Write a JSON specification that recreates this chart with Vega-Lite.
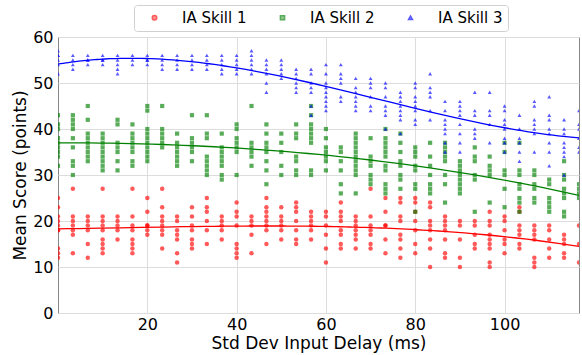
{
"$schema":"https://vega.github.io/schema/vega-lite/v6.json",
"width":521,"height":276,
"autosize":{"type":"none"},
"padding":{"left":58,"top":37,"right":3,"bottom":42},
"background":"white",
"config":{"view":{"stroke":"#888888","strokeWidth":1},"font":"DejaVu Sans",
"axis":{"labelFont":"DejaVu Sans","titleFont":"DejaVu Sans","labelFontSize":16,"titleFontSize":17,"titleFontWeight":"normal","labelColor":"#000","titleColor":"#000","gridColor":"#dddddd","domain":false,"tickSize":0}},
"data":{"values":[
{"x":0,"s":"IA Skill 1","y":25},{"x":0,"s":"IA Skill 1","y":23},{"x":0,"s":"IA Skill 1","y":21},{"x":0,"s":"IA Skill 1","y":20},{"x":0,"s":"IA Skill 1","y":19},{"x":0,"s":"IA Skill 1","y":18},{"x":0,"s":"IA Skill 1","y":18},{"x":0,"s":"IA Skill 1","y":14},{"x":0,"s":"IA Skill 1","y":13},{"x":0,"s":"IA Skill 1","y":12},
{"x":3.33,"s":"IA Skill 1","y":27},{"x":3.33,"s":"IA Skill 1","y":21},{"x":3.33,"s":"IA Skill 1","y":20},{"x":3.33,"s":"IA Skill 1","y":19},{"x":3.33,"s":"IA Skill 1","y":18},{"x":3.33,"s":"IA Skill 1","y":17},{"x":3.33,"s":"IA Skill 1","y":13},
{"x":6.67,"s":"IA Skill 1","y":21},{"x":6.67,"s":"IA Skill 1","y":20},{"x":6.67,"s":"IA Skill 1","y":19},{"x":6.67,"s":"IA Skill 1","y":18},{"x":6.67,"s":"IA Skill 1","y":15},{"x":6.67,"s":"IA Skill 1","y":12},
{"x":10,"s":"IA Skill 1","y":27},{"x":10,"s":"IA Skill 1","y":21},{"x":10,"s":"IA Skill 1","y":20},{"x":10,"s":"IA Skill 1","y":19},{"x":10,"s":"IA Skill 1","y":18},{"x":10,"s":"IA Skill 1","y":16},{"x":10,"s":"IA Skill 1","y":15},{"x":10,"s":"IA Skill 1","y":14},{"x":10,"s":"IA Skill 1","y":13},
{"x":13.33,"s":"IA Skill 1","y":21},{"x":13.33,"s":"IA Skill 1","y":20},{"x":13.33,"s":"IA Skill 1","y":19},{"x":13.33,"s":"IA Skill 1","y":18},{"x":13.33,"s":"IA Skill 1","y":16},
{"x":16.67,"s":"IA Skill 1","y":27},{"x":16.67,"s":"IA Skill 1","y":21},{"x":16.67,"s":"IA Skill 1","y":19},{"x":16.67,"s":"IA Skill 1","y":18},{"x":16.67,"s":"IA Skill 1","y":16},{"x":16.67,"s":"IA Skill 1","y":15},{"x":16.67,"s":"IA Skill 1","y":14},{"x":16.67,"s":"IA Skill 1","y":13},
{"x":20,"s":"IA Skill 1","y":25},{"x":20,"s":"IA Skill 1","y":22},{"x":20,"s":"IA Skill 1","y":19},{"x":20,"s":"IA Skill 1","y":19},{"x":20,"s":"IA Skill 1","y":18},{"x":20,"s":"IA Skill 1","y":17},
{"x":23.33,"s":"IA Skill 1","y":27},{"x":23.33,"s":"IA Skill 1","y":23},{"x":23.33,"s":"IA Skill 1","y":21},{"x":23.33,"s":"IA Skill 1","y":20},{"x":23.33,"s":"IA Skill 1","y":19},{"x":23.33,"s":"IA Skill 1","y":18},{"x":23.33,"s":"IA Skill 1","y":17},{"x":23.33,"s":"IA Skill 1","y":14},
{"x":26.67,"s":"IA Skill 1","y":21},{"x":26.67,"s":"IA Skill 1","y":20},{"x":26.67,"s":"IA Skill 1","y":18},{"x":26.67,"s":"IA Skill 1","y":17},{"x":26.67,"s":"IA Skill 1","y":16},{"x":26.67,"s":"IA Skill 1","y":13},{"x":26.67,"s":"IA Skill 1","y":11},
{"x":30,"s":"IA Skill 1","y":23},{"x":30,"s":"IA Skill 1","y":21},{"x":30,"s":"IA Skill 1","y":19},{"x":30,"s":"IA Skill 1","y":18},{"x":30,"s":"IA Skill 1","y":16},{"x":30,"s":"IA Skill 1","y":15},{"x":30,"s":"IA Skill 1","y":14},
{"x":33.33,"s":"IA Skill 1","y":25},{"x":33.33,"s":"IA Skill 1","y":23},{"x":33.33,"s":"IA Skill 1","y":22},{"x":33.33,"s":"IA Skill 1","y":20},{"x":33.33,"s":"IA Skill 1","y":18},{"x":33.33,"s":"IA Skill 1","y":15},
{"x":36.67,"s":"IA Skill 1","y":21},{"x":36.67,"s":"IA Skill 1","y":20},{"x":36.67,"s":"IA Skill 1","y":19},{"x":36.67,"s":"IA Skill 1","y":18},{"x":36.67,"s":"IA Skill 1","y":16},
{"x":40,"s":"IA Skill 1","y":24},{"x":40,"s":"IA Skill 1","y":22},{"x":40,"s":"IA Skill 1","y":21},{"x":40,"s":"IA Skill 1","y":19},{"x":40,"s":"IA Skill 1","y":15},{"x":40,"s":"IA Skill 1","y":14},{"x":40,"s":"IA Skill 1","y":13},{"x":40,"s":"IA Skill 1","y":12},
{"x":43.33,"s":"IA Skill 1","y":21},{"x":43.33,"s":"IA Skill 1","y":20},{"x":43.33,"s":"IA Skill 1","y":19},{"x":43.33,"s":"IA Skill 1","y":17},{"x":43.33,"s":"IA Skill 1","y":13},
{"x":46.67,"s":"IA Skill 1","y":25},{"x":46.67,"s":"IA Skill 1","y":23},{"x":46.67,"s":"IA Skill 1","y":22},{"x":46.67,"s":"IA Skill 1","y":21},{"x":46.67,"s":"IA Skill 1","y":20},{"x":46.67,"s":"IA Skill 1","y":19},{"x":46.67,"s":"IA Skill 1","y":18},{"x":46.67,"s":"IA Skill 1","y":15},
{"x":50,"s":"IA Skill 1","y":23},{"x":50,"s":"IA Skill 1","y":21},{"x":50,"s":"IA Skill 1","y":20},{"x":50,"s":"IA Skill 1","y":19},{"x":50,"s":"IA Skill 1","y":18},{"x":50,"s":"IA Skill 1","y":16},
{"x":53.33,"s":"IA Skill 1","y":24},{"x":53.33,"s":"IA Skill 1","y":23},{"x":53.33,"s":"IA Skill 1","y":22},{"x":53.33,"s":"IA Skill 1","y":20},{"x":53.33,"s":"IA Skill 1","y":18},{"x":53.33,"s":"IA Skill 1","y":16},{"x":53.33,"s":"IA Skill 1","y":15},
{"x":56.67,"s":"IA Skill 1","y":22},{"x":56.67,"s":"IA Skill 1","y":21},{"x":56.67,"s":"IA Skill 1","y":20},{"x":56.67,"s":"IA Skill 1","y":19},{"x":56.67,"s":"IA Skill 1","y":18},{"x":56.67,"s":"IA Skill 1","y":16},
{"x":60,"s":"IA Skill 1","y":22},{"x":60,"s":"IA Skill 1","y":21},{"x":60,"s":"IA Skill 1","y":19},{"x":60,"s":"IA Skill 1","y":17},{"x":60,"s":"IA Skill 1","y":14},{"x":60,"s":"IA Skill 1","y":11},
{"x":63.33,"s":"IA Skill 1","y":24},{"x":63.33,"s":"IA Skill 1","y":22},{"x":63.33,"s":"IA Skill 1","y":21},{"x":63.33,"s":"IA Skill 1","y":20},{"x":63.33,"s":"IA Skill 1","y":18},{"x":63.33,"s":"IA Skill 1","y":17},{"x":63.33,"s":"IA Skill 1","y":15},{"x":63.33,"s":"IA Skill 1","y":14},
{"x":66.67,"s":"IA Skill 1","y":21},{"x":66.67,"s":"IA Skill 1","y":20},{"x":66.67,"s":"IA Skill 1","y":19},{"x":66.67,"s":"IA Skill 1","y":18},{"x":66.67,"s":"IA Skill 1","y":17},{"x":66.67,"s":"IA Skill 1","y":16},{"x":66.67,"s":"IA Skill 1","y":14},
{"x":70,"s":"IA Skill 1","y":27},{"x":70,"s":"IA Skill 1","y":21},{"x":70,"s":"IA Skill 1","y":19},{"x":70,"s":"IA Skill 1","y":18},{"x":70,"s":"IA Skill 1","y":17},{"x":70,"s":"IA Skill 1","y":15},{"x":70,"s":"IA Skill 1","y":14},
{"x":73.33,"s":"IA Skill 1","y":25},{"x":73.33,"s":"IA Skill 1","y":22},{"x":73.33,"s":"IA Skill 1","y":19},{"x":73.33,"s":"IA Skill 1","y":19},{"x":73.33,"s":"IA Skill 1","y":16},{"x":73.33,"s":"IA Skill 1","y":13},
{"x":76.67,"s":"IA Skill 1","y":25},{"x":76.67,"s":"IA Skill 1","y":24},{"x":76.67,"s":"IA Skill 1","y":21},{"x":76.67,"s":"IA Skill 1","y":20},{"x":76.67,"s":"IA Skill 1","y":17},{"x":76.67,"s":"IA Skill 1","y":16},{"x":76.67,"s":"IA Skill 1","y":14},{"x":76.67,"s":"IA Skill 1","y":12},
{"x":80,"s":"IA Skill 1","y":25},{"x":80,"s":"IA Skill 1","y":24},{"x":80,"s":"IA Skill 1","y":22},{"x":80,"s":"IA Skill 1","y":20},{"x":80,"s":"IA Skill 1","y":18},{"x":80,"s":"IA Skill 1","y":15},{"x":80,"s":"IA Skill 1","y":13},
{"x":83.33,"s":"IA Skill 1","y":24},{"x":83.33,"s":"IA Skill 1","y":23},{"x":83.33,"s":"IA Skill 1","y":20},{"x":83.33,"s":"IA Skill 1","y":19},{"x":83.33,"s":"IA Skill 1","y":18},{"x":83.33,"s":"IA Skill 1","y":16},{"x":83.33,"s":"IA Skill 1","y":14},{"x":83.33,"s":"IA Skill 1","y":10},
{"x":86.67,"s":"IA Skill 1","y":21},{"x":86.67,"s":"IA Skill 1","y":20},{"x":86.67,"s":"IA Skill 1","y":19},{"x":86.67,"s":"IA Skill 1","y":18},{"x":86.67,"s":"IA Skill 1","y":16},{"x":86.67,"s":"IA Skill 1","y":13},{"x":86.67,"s":"IA Skill 1","y":12},
{"x":90,"s":"IA Skill 1","y":20},{"x":90,"s":"IA Skill 1","y":19},{"x":90,"s":"IA Skill 1","y":16},{"x":90,"s":"IA Skill 1","y":12},{"x":90,"s":"IA Skill 1","y":10},
{"x":93.33,"s":"IA Skill 1","y":20},{"x":93.33,"s":"IA Skill 1","y":19},{"x":93.33,"s":"IA Skill 1","y":17},{"x":93.33,"s":"IA Skill 1","y":15},{"x":93.33,"s":"IA Skill 1","y":14},
{"x":96.67,"s":"IA Skill 1","y":22},{"x":96.67,"s":"IA Skill 1","y":20},{"x":96.67,"s":"IA Skill 1","y":19},{"x":96.67,"s":"IA Skill 1","y":17},{"x":96.67,"s":"IA Skill 1","y":16},{"x":96.67,"s":"IA Skill 1","y":15},{"x":96.67,"s":"IA Skill 1","y":14},{"x":96.67,"s":"IA Skill 1","y":11},{"x":96.67,"s":"IA Skill 1","y":10},
{"x":100,"s":"IA Skill 1","y":21},{"x":100,"s":"IA Skill 1","y":20},{"x":100,"s":"IA Skill 1","y":18},{"x":100,"s":"IA Skill 1","y":16},{"x":100,"s":"IA Skill 1","y":15},{"x":100,"s":"IA Skill 1","y":13},
{"x":103.33,"s":"IA Skill 1","y":23},{"x":103.33,"s":"IA Skill 1","y":22},{"x":103.33,"s":"IA Skill 1","y":19},{"x":103.33,"s":"IA Skill 1","y":18},{"x":103.33,"s":"IA Skill 1","y":17},{"x":103.33,"s":"IA Skill 1","y":15},{"x":103.33,"s":"IA Skill 1","y":14},
{"x":106.67,"s":"IA Skill 1","y":19},{"x":106.67,"s":"IA Skill 1","y":18},{"x":106.67,"s":"IA Skill 1","y":17},{"x":106.67,"s":"IA Skill 1","y":16},{"x":106.67,"s":"IA Skill 1","y":12},{"x":106.67,"s":"IA Skill 1","y":11},{"x":106.67,"s":"IA Skill 1","y":10},
{"x":110,"s":"IA Skill 1","y":19},{"x":110,"s":"IA Skill 1","y":18},{"x":110,"s":"IA Skill 1","y":16},{"x":110,"s":"IA Skill 1","y":14},{"x":110,"s":"IA Skill 1","y":12},
{"x":113.33,"s":"IA Skill 1","y":17},{"x":113.33,"s":"IA Skill 1","y":16},{"x":113.33,"s":"IA Skill 1","y":15},{"x":113.33,"s":"IA Skill 1","y":13},{"x":113.33,"s":"IA Skill 1","y":12},
{"x":116.67,"s":"IA Skill 1","y":19},{"x":116.67,"s":"IA Skill 1","y":15},{"x":116.67,"s":"IA Skill 1","y":11},
{"x":0,"s":"IA Skill 2","y":43},{"x":0,"s":"IA Skill 2","y":41},{"x":0,"s":"IA Skill 2","y":40},{"x":0,"s":"IA Skill 2","y":38},{"x":0,"s":"IA Skill 2","y":37},{"x":0,"s":"IA Skill 2","y":36},{"x":0,"s":"IA Skill 2","y":35},{"x":0,"s":"IA Skill 2","y":34},{"x":0,"s":"IA Skill 2","y":32},
{"x":3.33,"s":"IA Skill 2","y":43},{"x":3.33,"s":"IA Skill 2","y":42},{"x":3.33,"s":"IA Skill 2","y":41},{"x":3.33,"s":"IA Skill 2","y":40},{"x":3.33,"s":"IA Skill 2","y":38},{"x":3.33,"s":"IA Skill 2","y":36},{"x":3.33,"s":"IA Skill 2","y":33},{"x":3.33,"s":"IA Skill 2","y":32},{"x":3.33,"s":"IA Skill 2","y":30},
{"x":6.67,"s":"IA Skill 2","y":45},{"x":6.67,"s":"IA Skill 2","y":42},{"x":6.67,"s":"IA Skill 2","y":39},{"x":6.67,"s":"IA Skill 2","y":38},{"x":6.67,"s":"IA Skill 2","y":37},{"x":6.67,"s":"IA Skill 2","y":36},{"x":6.67,"s":"IA Skill 2","y":35},{"x":6.67,"s":"IA Skill 2","y":34},{"x":6.67,"s":"IA Skill 2","y":33},
{"x":10,"s":"IA Skill 2","y":39},{"x":10,"s":"IA Skill 2","y":38},{"x":10,"s":"IA Skill 2","y":37},{"x":10,"s":"IA Skill 2","y":36},{"x":10,"s":"IA Skill 2","y":35},{"x":10,"s":"IA Skill 2","y":34},{"x":10,"s":"IA Skill 2","y":33},{"x":10,"s":"IA Skill 2","y":32},{"x":10,"s":"IA Skill 2","y":31},
{"x":13.33,"s":"IA Skill 2","y":42},{"x":13.33,"s":"IA Skill 2","y":41},{"x":13.33,"s":"IA Skill 2","y":37},{"x":13.33,"s":"IA Skill 2","y":36},{"x":13.33,"s":"IA Skill 2","y":35},{"x":13.33,"s":"IA Skill 2","y":33},{"x":13.33,"s":"IA Skill 2","y":31},
{"x":16.67,"s":"IA Skill 2","y":41},{"x":16.67,"s":"IA Skill 2","y":39},{"x":16.67,"s":"IA Skill 2","y":38},{"x":16.67,"s":"IA Skill 2","y":37},{"x":16.67,"s":"IA Skill 2","y":36},{"x":16.67,"s":"IA Skill 2","y":35},{"x":16.67,"s":"IA Skill 2","y":33},{"x":16.67,"s":"IA Skill 2","y":32},
{"x":20,"s":"IA Skill 2","y":45},{"x":20,"s":"IA Skill 2","y":44},{"x":20,"s":"IA Skill 2","y":40},{"x":20,"s":"IA Skill 2","y":39},{"x":20,"s":"IA Skill 2","y":38},{"x":20,"s":"IA Skill 2","y":37},{"x":20,"s":"IA Skill 2","y":36},{"x":20,"s":"IA Skill 2","y":35},{"x":20,"s":"IA Skill 2","y":34},{"x":20,"s":"IA Skill 2","y":33},
{"x":23.33,"s":"IA Skill 2","y":45},{"x":23.33,"s":"IA Skill 2","y":40},{"x":23.33,"s":"IA Skill 2","y":39},{"x":23.33,"s":"IA Skill 2","y":38},{"x":23.33,"s":"IA Skill 2","y":37},{"x":23.33,"s":"IA Skill 2","y":36},
{"x":26.67,"s":"IA Skill 2","y":39},{"x":26.67,"s":"IA Skill 2","y":37},{"x":26.67,"s":"IA Skill 2","y":36},{"x":26.67,"s":"IA Skill 2","y":35},{"x":26.67,"s":"IA Skill 2","y":34},{"x":26.67,"s":"IA Skill 2","y":33},{"x":26.67,"s":"IA Skill 2","y":32},
{"x":30,"s":"IA Skill 2","y":43},{"x":30,"s":"IA Skill 2","y":38},{"x":30,"s":"IA Skill 2","y":37},{"x":30,"s":"IA Skill 2","y":36},{"x":30,"s":"IA Skill 2","y":35},{"x":30,"s":"IA Skill 2","y":33},
{"x":33.33,"s":"IA Skill 2","y":43},{"x":33.33,"s":"IA Skill 2","y":39},{"x":33.33,"s":"IA Skill 2","y":38},{"x":33.33,"s":"IA Skill 2","y":34},{"x":33.33,"s":"IA Skill 2","y":33},{"x":33.33,"s":"IA Skill 2","y":32},{"x":33.33,"s":"IA Skill 2","y":31},{"x":33.33,"s":"IA Skill 2","y":30},
{"x":36.67,"s":"IA Skill 2","y":39},{"x":36.67,"s":"IA Skill 2","y":36},{"x":36.67,"s":"IA Skill 2","y":35},{"x":36.67,"s":"IA Skill 2","y":34},{"x":36.67,"s":"IA Skill 2","y":33},{"x":36.67,"s":"IA Skill 2","y":32},{"x":36.67,"s":"IA Skill 2","y":30},{"x":36.67,"s":"IA Skill 2","y":29},
{"x":40,"s":"IA Skill 2","y":41},{"x":40,"s":"IA Skill 2","y":40},{"x":40,"s":"IA Skill 2","y":38},{"x":40,"s":"IA Skill 2","y":37},{"x":40,"s":"IA Skill 2","y":36},{"x":40,"s":"IA Skill 2","y":35},{"x":40,"s":"IA Skill 2","y":30},
{"x":43.33,"s":"IA Skill 2","y":45},{"x":43.33,"s":"IA Skill 2","y":37},{"x":43.33,"s":"IA Skill 2","y":36},{"x":43.33,"s":"IA Skill 2","y":35},{"x":43.33,"s":"IA Skill 2","y":34},{"x":43.33,"s":"IA Skill 2","y":32},
{"x":46.67,"s":"IA Skill 2","y":41},{"x":46.67,"s":"IA Skill 2","y":39},{"x":46.67,"s":"IA Skill 2","y":37},{"x":46.67,"s":"IA Skill 2","y":36},{"x":46.67,"s":"IA Skill 2","y":35},{"x":46.67,"s":"IA Skill 2","y":33},{"x":46.67,"s":"IA Skill 2","y":31},{"x":46.67,"s":"IA Skill 2","y":28},
{"x":50,"s":"IA Skill 2","y":39},{"x":50,"s":"IA Skill 2","y":37},{"x":50,"s":"IA Skill 2","y":35},{"x":50,"s":"IA Skill 2","y":32},{"x":50,"s":"IA Skill 2","y":30},
{"x":53.33,"s":"IA Skill 2","y":41},{"x":53.33,"s":"IA Skill 2","y":39},{"x":53.33,"s":"IA Skill 2","y":38},{"x":53.33,"s":"IA Skill 2","y":34},{"x":53.33,"s":"IA Skill 2","y":33},{"x":53.33,"s":"IA Skill 2","y":31},{"x":53.33,"s":"IA Skill 2","y":30},
{"x":56.67,"s":"IA Skill 2","y":45},{"x":56.67,"s":"IA Skill 2","y":43},{"x":56.67,"s":"IA Skill 2","y":41},{"x":56.67,"s":"IA Skill 2","y":40},{"x":56.67,"s":"IA Skill 2","y":39},{"x":56.67,"s":"IA Skill 2","y":38},{"x":56.67,"s":"IA Skill 2","y":37},{"x":56.67,"s":"IA Skill 2","y":31},{"x":56.67,"s":"IA Skill 2","y":30},
{"x":60,"s":"IA Skill 2","y":40},{"x":60,"s":"IA Skill 2","y":38},{"x":60,"s":"IA Skill 2","y":36},{"x":60,"s":"IA Skill 2","y":35},{"x":60,"s":"IA Skill 2","y":34},{"x":60,"s":"IA Skill 2","y":33},{"x":60,"s":"IA Skill 2","y":31},
{"x":63.33,"s":"IA Skill 2","y":36},{"x":63.33,"s":"IA Skill 2","y":35},{"x":63.33,"s":"IA Skill 2","y":33},{"x":63.33,"s":"IA Skill 2","y":31},{"x":63.33,"s":"IA Skill 2","y":28},{"x":63.33,"s":"IA Skill 2","y":26},
{"x":66.67,"s":"IA Skill 2","y":39},{"x":66.67,"s":"IA Skill 2","y":38},{"x":66.67,"s":"IA Skill 2","y":37},{"x":66.67,"s":"IA Skill 2","y":36},{"x":66.67,"s":"IA Skill 2","y":35},{"x":66.67,"s":"IA Skill 2","y":34},{"x":66.67,"s":"IA Skill 2","y":33},{"x":66.67,"s":"IA Skill 2","y":32},{"x":66.67,"s":"IA Skill 2","y":31},{"x":66.67,"s":"IA Skill 2","y":30},{"x":66.67,"s":"IA Skill 2","y":26},
{"x":70,"s":"IA Skill 2","y":38},{"x":70,"s":"IA Skill 2","y":34},{"x":70,"s":"IA Skill 2","y":33},{"x":70,"s":"IA Skill 2","y":32},{"x":70,"s":"IA Skill 2","y":30},{"x":70,"s":"IA Skill 2","y":29},{"x":70,"s":"IA Skill 2","y":28},
{"x":73.33,"s":"IA Skill 2","y":40},{"x":73.33,"s":"IA Skill 2","y":38},{"x":73.33,"s":"IA Skill 2","y":37},{"x":73.33,"s":"IA Skill 2","y":36},{"x":73.33,"s":"IA Skill 2","y":35},{"x":73.33,"s":"IA Skill 2","y":34},{"x":73.33,"s":"IA Skill 2","y":32},{"x":73.33,"s":"IA Skill 2","y":31},{"x":73.33,"s":"IA Skill 2","y":28},{"x":73.33,"s":"IA Skill 2","y":27},{"x":73.33,"s":"IA Skill 2","y":26},
{"x":76.67,"s":"IA Skill 2","y":39},{"x":76.67,"s":"IA Skill 2","y":37},{"x":76.67,"s":"IA Skill 2","y":35},{"x":76.67,"s":"IA Skill 2","y":33},{"x":76.67,"s":"IA Skill 2","y":32},{"x":76.67,"s":"IA Skill 2","y":30},{"x":76.67,"s":"IA Skill 2","y":29},{"x":76.67,"s":"IA Skill 2","y":27},
{"x":80,"s":"IA Skill 2","y":36},{"x":80,"s":"IA Skill 2","y":35},{"x":80,"s":"IA Skill 2","y":34},{"x":80,"s":"IA Skill 2","y":32},{"x":80,"s":"IA Skill 2","y":31},{"x":80,"s":"IA Skill 2","y":28},{"x":80,"s":"IA Skill 2","y":27},{"x":80,"s":"IA Skill 2","y":22},
{"x":83.33,"s":"IA Skill 2","y":37},{"x":83.33,"s":"IA Skill 2","y":34},{"x":83.33,"s":"IA Skill 2","y":32},{"x":83.33,"s":"IA Skill 2","y":30},{"x":83.33,"s":"IA Skill 2","y":28},{"x":83.33,"s":"IA Skill 2","y":27},{"x":83.33,"s":"IA Skill 2","y":26},
{"x":86.67,"s":"IA Skill 2","y":37},{"x":86.67,"s":"IA Skill 2","y":36},{"x":86.67,"s":"IA Skill 2","y":35},{"x":86.67,"s":"IA Skill 2","y":34},{"x":86.67,"s":"IA Skill 2","y":33},{"x":86.67,"s":"IA Skill 2","y":30},{"x":86.67,"s":"IA Skill 2","y":28},{"x":86.67,"s":"IA Skill 2","y":24},
{"x":90,"s":"IA Skill 2","y":33},{"x":90,"s":"IA Skill 2","y":32},{"x":90,"s":"IA Skill 2","y":31},{"x":90,"s":"IA Skill 2","y":30},{"x":90,"s":"IA Skill 2","y":29},{"x":90,"s":"IA Skill 2","y":28},{"x":90,"s":"IA Skill 2","y":27},{"x":90,"s":"IA Skill 2","y":26},
{"x":93.33,"s":"IA Skill 2","y":36},{"x":93.33,"s":"IA Skill 2","y":34},{"x":93.33,"s":"IA Skill 2","y":33},{"x":93.33,"s":"IA Skill 2","y":30},{"x":93.33,"s":"IA Skill 2","y":29},{"x":93.33,"s":"IA Skill 2","y":22},
{"x":96.67,"s":"IA Skill 2","y":34},{"x":96.67,"s":"IA Skill 2","y":32},{"x":96.67,"s":"IA Skill 2","y":31},{"x":96.67,"s":"IA Skill 2","y":30},{"x":96.67,"s":"IA Skill 2","y":24},
{"x":100,"s":"IA Skill 2","y":37},{"x":100,"s":"IA Skill 2","y":35},{"x":100,"s":"IA Skill 2","y":31},{"x":100,"s":"IA Skill 2","y":30},{"x":100,"s":"IA Skill 2","y":27},{"x":100,"s":"IA Skill 2","y":23},
{"x":103.33,"s":"IA Skill 2","y":37},{"x":103.33,"s":"IA Skill 2","y":31},{"x":103.33,"s":"IA Skill 2","y":30},{"x":103.33,"s":"IA Skill 2","y":28},{"x":103.33,"s":"IA Skill 2","y":27},{"x":103.33,"s":"IA Skill 2","y":25},{"x":103.33,"s":"IA Skill 2","y":24},{"x":103.33,"s":"IA Skill 2","y":22},
{"x":106.67,"s":"IA Skill 2","y":31},{"x":106.67,"s":"IA Skill 2","y":30},{"x":106.67,"s":"IA Skill 2","y":28},{"x":106.67,"s":"IA Skill 2","y":27},{"x":106.67,"s":"IA Skill 2","y":25},{"x":106.67,"s":"IA Skill 2","y":24},
{"x":110,"s":"IA Skill 2","y":29},{"x":110,"s":"IA Skill 2","y":28},{"x":110,"s":"IA Skill 2","y":25},{"x":110,"s":"IA Skill 2","y":24},{"x":110,"s":"IA Skill 2","y":23},{"x":110,"s":"IA Skill 2","y":22},
{"x":113.33,"s":"IA Skill 2","y":33},{"x":113.33,"s":"IA Skill 2","y":30},{"x":113.33,"s":"IA Skill 2","y":29},{"x":113.33,"s":"IA Skill 2","y":27},{"x":113.33,"s":"IA Skill 2","y":26},{"x":113.33,"s":"IA Skill 2","y":25},{"x":113.33,"s":"IA Skill 2","y":22},{"x":113.33,"s":"IA Skill 2","y":21},
{"x":116.67,"s":"IA Skill 2","y":28},{"x":116.67,"s":"IA Skill 2","y":27},{"x":116.67,"s":"IA Skill 2","y":26},{"x":116.67,"s":"IA Skill 2","y":25},
{"x":0,"s":"IA Skill 3","y":57},{"x":0,"s":"IA Skill 3","y":56},{"x":0,"s":"IA Skill 3","y":56},{"x":0,"s":"IA Skill 3","y":55},{"x":0,"s":"IA Skill 3","y":54},{"x":0,"s":"IA Skill 3","y":52},
{"x":3.33,"s":"IA Skill 3","y":56},{"x":3.33,"s":"IA Skill 3","y":55},{"x":3.33,"s":"IA Skill 3","y":54},{"x":3.33,"s":"IA Skill 3","y":53},
{"x":6.67,"s":"IA Skill 3","y":56},{"x":6.67,"s":"IA Skill 3","y":55},{"x":6.67,"s":"IA Skill 3","y":55},{"x":6.67,"s":"IA Skill 3","y":54},
{"x":10,"s":"IA Skill 3","y":56},{"x":10,"s":"IA Skill 3","y":55},{"x":10,"s":"IA Skill 3","y":55},{"x":10,"s":"IA Skill 3","y":54},
{"x":13.33,"s":"IA Skill 3","y":56},{"x":13.33,"s":"IA Skill 3","y":55},{"x":13.33,"s":"IA Skill 3","y":54},{"x":13.33,"s":"IA Skill 3","y":53},{"x":13.33,"s":"IA Skill 3","y":52},
{"x":16.67,"s":"IA Skill 3","y":56},{"x":16.67,"s":"IA Skill 3","y":55},{"x":16.67,"s":"IA Skill 3","y":54},
{"x":20,"s":"IA Skill 3","y":56},{"x":20,"s":"IA Skill 3","y":55},{"x":20,"s":"IA Skill 3","y":55},{"x":20,"s":"IA Skill 3","y":54},
{"x":23.33,"s":"IA Skill 3","y":56},{"x":23.33,"s":"IA Skill 3","y":55},{"x":23.33,"s":"IA Skill 3","y":54},{"x":23.33,"s":"IA Skill 3","y":53},
{"x":26.67,"s":"IA Skill 3","y":56},{"x":26.67,"s":"IA Skill 3","y":55},{"x":26.67,"s":"IA Skill 3","y":54},{"x":26.67,"s":"IA Skill 3","y":53},
{"x":30,"s":"IA Skill 3","y":56},{"x":30,"s":"IA Skill 3","y":55},{"x":30,"s":"IA Skill 3","y":54},{"x":30,"s":"IA Skill 3","y":53},
{"x":33.33,"s":"IA Skill 3","y":56},{"x":33.33,"s":"IA Skill 3","y":55},{"x":33.33,"s":"IA Skill 3","y":54},{"x":33.33,"s":"IA Skill 3","y":53},
{"x":36.67,"s":"IA Skill 3","y":56},{"x":36.67,"s":"IA Skill 3","y":55},{"x":36.67,"s":"IA Skill 3","y":54},{"x":36.67,"s":"IA Skill 3","y":53},{"x":36.67,"s":"IA Skill 3","y":52},
{"x":40,"s":"IA Skill 3","y":56},{"x":40,"s":"IA Skill 3","y":55},{"x":40,"s":"IA Skill 3","y":54},{"x":40,"s":"IA Skill 3","y":53},{"x":40,"s":"IA Skill 3","y":52},
{"x":43.33,"s":"IA Skill 3","y":57},{"x":43.33,"s":"IA Skill 3","y":56},{"x":43.33,"s":"IA Skill 3","y":55},{"x":43.33,"s":"IA Skill 3","y":54},{"x":43.33,"s":"IA Skill 3","y":53},{"x":43.33,"s":"IA Skill 3","y":52},
{"x":46.67,"s":"IA Skill 3","y":55},{"x":46.67,"s":"IA Skill 3","y":54},{"x":46.67,"s":"IA Skill 3","y":53},{"x":46.67,"s":"IA Skill 3","y":52},{"x":46.67,"s":"IA Skill 3","y":50},{"x":46.67,"s":"IA Skill 3","y":48},
{"x":50,"s":"IA Skill 3","y":55},{"x":50,"s":"IA Skill 3","y":54},{"x":50,"s":"IA Skill 3","y":53},{"x":50,"s":"IA Skill 3","y":52},{"x":50,"s":"IA Skill 3","y":51},
{"x":53.33,"s":"IA Skill 3","y":53},{"x":53.33,"s":"IA Skill 3","y":52},{"x":53.33,"s":"IA Skill 3","y":51},{"x":53.33,"s":"IA Skill 3","y":50},{"x":53.33,"s":"IA Skill 3","y":49},{"x":53.33,"s":"IA Skill 3","y":48},
{"x":56.67,"s":"IA Skill 3","y":53},{"x":56.67,"s":"IA Skill 3","y":52},{"x":56.67,"s":"IA Skill 3","y":50},{"x":56.67,"s":"IA Skill 3","y":49},{"x":56.67,"s":"IA Skill 3","y":48},{"x":56.67,"s":"IA Skill 3","y":45},{"x":56.67,"s":"IA Skill 3","y":43},
{"x":60,"s":"IA Skill 3","y":54},{"x":60,"s":"IA Skill 3","y":52},{"x":60,"s":"IA Skill 3","y":50},{"x":60,"s":"IA Skill 3","y":49},{"x":60,"s":"IA Skill 3","y":48},{"x":60,"s":"IA Skill 3","y":47},{"x":60,"s":"IA Skill 3","y":46},{"x":60,"s":"IA Skill 3","y":45},{"x":60,"s":"IA Skill 3","y":44},
{"x":63.33,"s":"IA Skill 3","y":54},{"x":63.33,"s":"IA Skill 3","y":52},{"x":63.33,"s":"IA Skill 3","y":51},{"x":63.33,"s":"IA Skill 3","y":50},{"x":63.33,"s":"IA Skill 3","y":47},{"x":63.33,"s":"IA Skill 3","y":46},
{"x":66.67,"s":"IA Skill 3","y":51},{"x":66.67,"s":"IA Skill 3","y":49},{"x":66.67,"s":"IA Skill 3","y":48},{"x":66.67,"s":"IA Skill 3","y":47},{"x":66.67,"s":"IA Skill 3","y":46},{"x":66.67,"s":"IA Skill 3","y":45},{"x":66.67,"s":"IA Skill 3","y":44},
{"x":70,"s":"IA Skill 3","y":51},{"x":70,"s":"IA Skill 3","y":50},{"x":70,"s":"IA Skill 3","y":49},{"x":70,"s":"IA Skill 3","y":47},{"x":70,"s":"IA Skill 3","y":45},{"x":70,"s":"IA Skill 3","y":44},
{"x":73.33,"s":"IA Skill 3","y":50},{"x":73.33,"s":"IA Skill 3","y":49},{"x":73.33,"s":"IA Skill 3","y":47},{"x":73.33,"s":"IA Skill 3","y":45},{"x":73.33,"s":"IA Skill 3","y":44},{"x":73.33,"s":"IA Skill 3","y":43},{"x":73.33,"s":"IA Skill 3","y":40},
{"x":76.67,"s":"IA Skill 3","y":48},{"x":76.67,"s":"IA Skill 3","y":47},{"x":76.67,"s":"IA Skill 3","y":46},{"x":76.67,"s":"IA Skill 3","y":45},{"x":76.67,"s":"IA Skill 3","y":44},{"x":76.67,"s":"IA Skill 3","y":43},{"x":76.67,"s":"IA Skill 3","y":42},{"x":76.67,"s":"IA Skill 3","y":39},
{"x":80,"s":"IA Skill 3","y":50},{"x":80,"s":"IA Skill 3","y":49},{"x":80,"s":"IA Skill 3","y":47},{"x":80,"s":"IA Skill 3","y":46},{"x":80,"s":"IA Skill 3","y":45},{"x":80,"s":"IA Skill 3","y":44},{"x":80,"s":"IA Skill 3","y":42},{"x":80,"s":"IA Skill 3","y":41},
{"x":83.33,"s":"IA Skill 3","y":52},{"x":83.33,"s":"IA Skill 3","y":49},{"x":83.33,"s":"IA Skill 3","y":48},{"x":83.33,"s":"IA Skill 3","y":47},{"x":83.33,"s":"IA Skill 3","y":44},{"x":83.33,"s":"IA Skill 3","y":42},
{"x":86.67,"s":"IA Skill 3","y":46},{"x":86.67,"s":"IA Skill 3","y":44},{"x":86.67,"s":"IA Skill 3","y":42},{"x":86.67,"s":"IA Skill 3","y":41},{"x":86.67,"s":"IA Skill 3","y":40},{"x":86.67,"s":"IA Skill 3","y":39},{"x":86.67,"s":"IA Skill 3","y":37},{"x":86.67,"s":"IA Skill 3","y":35},
{"x":90,"s":"IA Skill 3","y":46},{"x":90,"s":"IA Skill 3","y":45},{"x":90,"s":"IA Skill 3","y":44},{"x":90,"s":"IA Skill 3","y":43},{"x":90,"s":"IA Skill 3","y":41},{"x":90,"s":"IA Skill 3","y":39},{"x":90,"s":"IA Skill 3","y":37},{"x":90,"s":"IA Skill 3","y":35},
{"x":93.33,"s":"IA Skill 3","y":48},{"x":93.33,"s":"IA Skill 3","y":44},{"x":93.33,"s":"IA Skill 3","y":43},{"x":93.33,"s":"IA Skill 3","y":40},{"x":93.33,"s":"IA Skill 3","y":39},{"x":93.33,"s":"IA Skill 3","y":38},
{"x":96.67,"s":"IA Skill 3","y":48},{"x":96.67,"s":"IA Skill 3","y":44},{"x":96.67,"s":"IA Skill 3","y":43},{"x":96.67,"s":"IA Skill 3","y":41},{"x":96.67,"s":"IA Skill 3","y":37},
{"x":100,"s":"IA Skill 3","y":45},{"x":100,"s":"IA Skill 3","y":44},{"x":100,"s":"IA Skill 3","y":42},{"x":100,"s":"IA Skill 3","y":41},{"x":100,"s":"IA Skill 3","y":40},{"x":100,"s":"IA Skill 3","y":38},{"x":100,"s":"IA Skill 3","y":37},{"x":100,"s":"IA Skill 3","y":35},
{"x":103.33,"s":"IA Skill 3","y":43},{"x":103.33,"s":"IA Skill 3","y":40},{"x":103.33,"s":"IA Skill 3","y":38},{"x":103.33,"s":"IA Skill 3","y":37},{"x":103.33,"s":"IA Skill 3","y":35},{"x":103.33,"s":"IA Skill 3","y":33},
{"x":106.67,"s":"IA Skill 3","y":46},{"x":106.67,"s":"IA Skill 3","y":45},{"x":106.67,"s":"IA Skill 3","y":42},{"x":106.67,"s":"IA Skill 3","y":41},{"x":106.67,"s":"IA Skill 3","y":40},{"x":106.67,"s":"IA Skill 3","y":39},{"x":106.67,"s":"IA Skill 3","y":35},
{"x":110,"s":"IA Skill 3","y":47},{"x":110,"s":"IA Skill 3","y":43},{"x":110,"s":"IA Skill 3","y":42},{"x":110,"s":"IA Skill 3","y":40},{"x":110,"s":"IA Skill 3","y":39},{"x":110,"s":"IA Skill 3","y":37},{"x":110,"s":"IA Skill 3","y":35},{"x":110,"s":"IA Skill 3","y":32},
{"x":113.33,"s":"IA Skill 3","y":42},{"x":113.33,"s":"IA Skill 3","y":40},{"x":113.33,"s":"IA Skill 3","y":39},{"x":113.33,"s":"IA Skill 3","y":37},{"x":113.33,"s":"IA Skill 3","y":36},{"x":113.33,"s":"IA Skill 3","y":35},{"x":113.33,"s":"IA Skill 3","y":34},{"x":113.33,"s":"IA Skill 3","y":30},
{"x":116.67,"s":"IA Skill 3","y":44},{"x":116.67,"s":"IA Skill 3","y":41},{"x":116.67,"s":"IA Skill 3","y":40},{"x":116.67,"s":"IA Skill 3","y":38},{"x":116.67,"s":"IA Skill 3","y":36},{"x":116.67,"s":"IA Skill 3","y":35}
]},
"layer":[
{"mark":{"type":"point","filled":true,"opacity":0.65,"clip":true},
"encoding":{
"x":{"field":"x","type":"quantitative","scale":{"domain":[0,116.67],"nice":false,"zero":false},"axis":{"values":[20,40,60,80,100],"title":"Std Dev Input Delay (ms)","labelPadding":3,"titlePadding":3}},
"y":{"field":"y","type":"quantitative","scale":{"domain":[0,60],"nice":false},"axis":{"values":[0,10,20,30,40,50,60],"title":"Mean Score (points)","labelPadding":5,"titlePadding":3}},
"color":{"field":"s","type":"nominal","scale":{"domain":["IA Skill 1","IA Skill 2","IA Skill 3"],"range":["#ff0000","#008000","#0000ff"]},
"legend":{"orient":"none","legendX":76,"legendY":-32,"direction":"horizontal","title":null,"labelFontSize":15,"labelFont":"DejaVu Sans","labelColor":"#000","symbolOpacity":0.7,"symbolOffset":8,"labelOffset":20,"columnPadding":20,"padding":5,"strokeColor":"#d0d0d0","fillColor":"white","cornerRadius":3}},
"shape":{"field":"s","type":"nominal","scale":{"domain":["IA Skill 1","IA Skill 2","IA Skill 3"],"range":["circle","square","triangle-up"]}},
"size":{"field":"s","type":"nominal","scale":{"domain":["IA Skill 1","IA Skill 2","IA Skill 3"],"range":[20,15,24]}}
}},
{"transform":[{"regression":"y","on":"x","groupby":["s"],"method":"poly","order":3,"extent":[0,116.67]}],
"mark":{"type":"line","strokeWidth":1.3,"clip":true},
"encoding":{
"x":{"field":"x","type":"quantitative"},
"y":{"field":"y","type":"quantitative"},
"color":{"field":"s","type":"nominal","legend":null}
}}
]
}
